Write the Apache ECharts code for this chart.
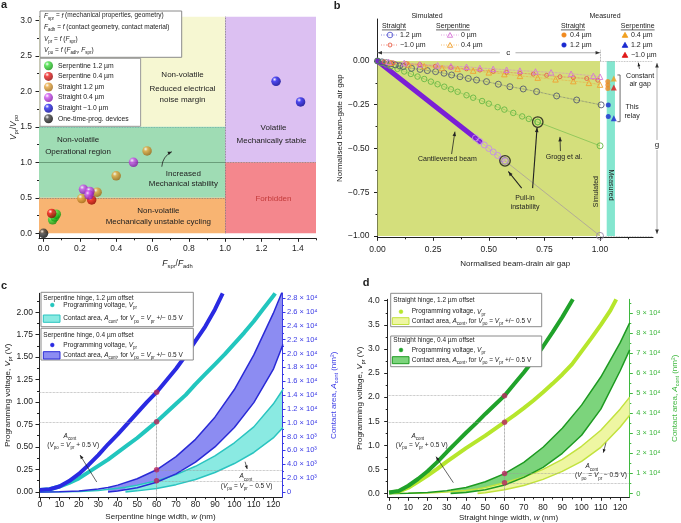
<!DOCTYPE html>
<html><head><meta charset="utf-8">
<script src="https://cdn.jsdelivr.net/npm/echarts@6/dist/echarts.min.js"></script>
<style>html,body{margin:0;padding:0;background:#fff}#c{width:681px;height:523px}</style>
</head><body><div id="c"></div>
<script>
// ================= DATA =================
// ---- Panel a : Vpr/Vpo vs Fspr/Fadh ----
const aSerp12 = [[0.05,0.19],[0.062,0.23],[0.07,0.27]];
const aSerp04 = [[0.045,0.28],[0.265,0.47]];
const aStr12  = [[0.21,0.49],[0.295,0.58],[0.40,0.81],[0.57,1.16]];
const aStr04  = [[0.22,0.62],[0.255,0.59],[0.25,0.54],[0.495,1.0]];
const aStrM10 = [[1.28,2.14],[1.415,1.85]];
const aOTP    = [[0,0]];
const aXTicks = [0,0.2,0.4,0.6,0.8,1.0,1.2,1.4];
const aXMinor = [0.1,0.3,0.5,0.7,0.9,1.1,1.3,1.5];
const aYTicks = [0,0.5,1,1.5,2,2.5,3];
const aYMinor = [0.25,0.75,1.25,1.75,2.25,2.75];

// ---- Panel b : normalised air gaps ----
const bCant     = [[0,0],[0.1,-0.1],[0.2,-0.2],[0.3,-0.3],[0.4,-0.4],[0.46,-0.46]];
const bCantEnd  = [[0.44,-0.44],[0.46,-0.46],[0.48,-0.48],[0.5,-0.5],[0.52,-0.52],[0.54,-0.54],[0.56,-0.56],[0.573,-0.571]];
const bCantPost = [[0.573,-0.571],[1.0,-1.0]];
const bGrogg = [[0,0],[0.02,-0.01],[0.04,-0.02],[0.06,-0.03],[0.09,-0.045],[0.12,-0.06],[0.15,-0.074],[0.18,-0.089],[0.21,-0.103],[0.24,-0.118],[0.27,-0.133],[0.3,-0.147],[0.33,-0.162],[0.36,-0.176],[0.4,-0.196],[0.43,-0.21],[0.47,-0.229],[0.5,-0.244],[0.54,-0.264],[0.57,-0.278],[0.61,-0.297],[0.65,-0.317],[0.68,-0.331],[0.72,-0.349]];
const bGroggPost = [[0.72,-0.349],[1.0,-0.485]];
const bSimStr12 = [[0,0],[0.02,-0.005],[0.04,-0.01],[0.06,-0.016],[0.08,-0.022],[0.1,-0.027],[0.116,-0.032],[0.153,-0.042],[0.191,-0.048],[0.224,-0.055],[0.261,-0.061],[0.299,-0.07],[0.333,-0.08],[0.371,-0.09],[0.408,-0.1],[0.445,-0.109],[0.49,-0.118],[0.543,-0.133],[0.595,-0.147],[0.655,-0.16],[0.715,-0.175],[0.805,-0.2],[0.895,-0.223],[1.005,-0.251]];
const bSimStrM10 = [[0.03,-0.005],[0.07,-0.01],[0.13,-0.015],[0.19,-0.02],[0.26,-0.03],[0.33,-0.037],[0.4,-0.045],[0.46,-0.052],[0.52,-0.06],[0.58,-0.065],[0.64,-0.07],[0.7,-0.075],[0.76,-0.082],[0.82,-0.09],[0.88,-0.095],[0.94,-0.1],[0.99,-0.11]];
const bSimSerp0 = [[0.05,-0.005],[0.12,-0.012],[0.19,-0.02],[0.27,-0.025],[0.33,-0.03],[0.4,-0.033],[0.46,-0.04],[0.52,-0.045],[0.58,-0.05],[0.64,-0.055],[0.71,-0.06],[0.78,-0.065],[0.87,-0.073],[0.97,-0.085],[1.0,-0.09]];
const bSimSerp04 = [[0.06,-0.01],[0.14,-0.02],[0.21,-0.03],[0.29,-0.04],[0.36,-0.045],[0.43,-0.055],[0.5,-0.065],[0.57,-0.075],[0.64,-0.085],[0.72,-0.095],[0.8,-0.105],[0.88,-0.115],[0.95,-0.125],[1.0,-0.135]];
const bPullIn = [[0.573,-0.571],[0.72,-0.349]];
const bMeasStr04 = [[1.035,-0.118],[1.035,-0.137],[1.035,-0.158]];
const bMeasStr12 = [[1.037,-0.251],[1.037,-0.318]];
const bMeasSerp04 = [[1.062,-0.1]];
const bMeasSerpM10 = [[1.062,-0.152]];
const bMeasSerp12 = [[1.062,-0.328]];
const bXTicks = [0,0.25,0.5,0.75,1];
const bXMinor = [0.125,0.375,0.625,0.875,1.125];
const bYTicks = [-1,-0.75,-0.5,-0.25,0];
const bYMinor = [-0.875,-0.625,-0.375,-0.125];

// ---- Panel c : serpentine hinge ----
const cW      = [0,5,10,15,20,25,30,35,40,45,50,55,60,65,70,75,80,85,90,94];
const cBlueV  = [0.02,0.03,0.06,0.12,0.2,0.3,0.41,0.53,0.64,0.76,0.88,1.0,1.11,1.24,1.37,1.52,1.68,1.84,2.03,2.21];
const cCyanW  = [0,5,10,15,20,25,30,35,40,45,50,55,60,65,70,75,80,85,90,95,100,105,110,115,120,121];
const cCyanV  = [0.02,0.03,0.06,0.1,0.15,0.22,0.29,0.36,0.44,0.52,0.6,0.69,0.78,0.88,0.98,1.08,1.2,1.31,1.42,1.53,1.65,1.77,1.9,2.04,2.18,2.21];
const cBlueUpW = [0,10,20,30,35,40,50,60,70,80,90,100,110,120,125];
const cBlueUp  = [0,30,130,420,650,980,1900,3200,5100,7600,10800,14800,19800,25800,29200];
const cBlueLoW = [35,40,50,60,70,80,90,100,110,120,125];
const cBlueLo  = [0,120,600,1400,2600,4300,6500,9300,12900,17700,21300];
const cCyanUpW = [0,10,20,30,40,44,50,60,70,80,90,100,110,120,125];
const cCyanUp  = [0,15,70,220,520,680,980,1600,2500,3700,5200,7100,9400,12700,14800];
const cCyanLoW = [44,50,60,70,80,90,100,110,120,125];
const cCyanLo  = [0,150,500,1050,1800,2800,4100,5700,7800,9300];
const cMarkV = [[60,1.11],[60,0.78]];
const cMarkA = [[60,3200],[60,1600]];
const cXTicks = [0,10,20,30,40,50,60,70,80,90,100,110,120];
const cXMinor = [5,15,25,35,45,55,65,75,85,95,105,115];
const cYTicks = [0,0.25,0.5,0.75,1,1.25,1.5,1.75,2];
const cYMinor = [0.125,0.375,0.625,0.875,1.125,1.375,1.625,1.875,2.125];
const cRTicks = [0,2000,4000,6000,8000,10000,12000,14000,16000,18000,20000,22000,24000,26000,28000];
const cRMinor = [1000,3000,5000,7000,9000,11000,13000,15000,17000,19000,21000,23000,25000,27000];

// ---- Panel d : straight hinge ----
const dGreenW = [0,5,10,15,20,25,30,35,40,45,50,55,60,65,70,75,80,85,90,95.5];
const dGreenV = [0.02,0.05,0.16,0.3,0.46,0.65,0.86,1.06,1.26,1.45,1.65,1.84,2.03,2.27,2.51,2.77,3.05,3.35,3.66,4.03];
const dYelW   = [0,5,10,15,20,25,30,35,40,45,50,55,60,65,70,75,80,85,90,95,100,105,110,115,118];
const dYelV   = [0.02,0.04,0.12,0.24,0.37,0.51,0.66,0.8,0.94,1.07,1.2,1.34,1.48,1.62,1.77,1.93,2.1,2.28,2.47,2.68,2.95,3.22,3.5,3.8,4.03];
const dGreenUpW = [0,10,20,30,32,40,50,60,70,80,90,100,110,120,125];
const dGreenUp  = [0,100,500,1400,1700,3000,5800,9900,15500,23000,32500,44000,58000,75000,85000];
const dGreenLoW = [32,40,50,60,70,80,90,100,110,120,125];
const dGreenLo  = [0,500,1800,4200,8000,13000,20000,29000,42000,61000,71500];
const dYelUpW = [0,10,20,30,40,46,50,60,70,80,90,100,110,120,125];
const dYelUp  = [0,50,250,700,1500,2200,3000,5300,8200,12000,17000,23500,31500,42000,48000];
const dYelLoW = [46,50,60,70,80,90,100,110,120,125];
const dYelLo  = [0,400,1800,4000,7000,11000,16000,23000,33000,39000];
const dMarkV = [[60,2.03],[60,1.48]];
const dMarkA = [[60,9900],[60,5300]];
const dXTicks = [0,10,20,30,40,50,60,70,80,90,100,110,120];
const dXMinor = [5,15,25,35,45,55,65,75,85,95,105,115];
const dYTicks = [0,0.5,1,1.5,2,2.5,3,3.5,4];
const dYMinor = [0.25,0.75,1.25,1.75,2.25,2.75,3.25,3.75];
const dRTicks = [0,10000,20000,30000,40000,50000,60000,70000,80000,90000];
const dRMinor = [5000,15000,25000,35000,45000,55000,65000,75000,85000,95000];

// ================= HELPERS =================
const FONT = '"Liberation Sans", Arial, Helvetica, sans-serif';
const INK = '#222';
const zip = (a,b)=>a.map((v,i)=>[v,b[i]]);
const SUP = {'0':'⁰','1':'¹','2':'²','3':'³','4':'⁴','5':'⁵','6':'⁶','7':'⁷','8':'⁸','9':'⁹','-':'⁻'};
function sci(v,dec){ if(v===0) return '0'; const e=Math.floor(Math.log10(v)+1e-9); const m=v/Math.pow(10,e); return m.toFixed(dec)+' × 10'+String(e).split('').map(c=>SUP[c]).join(''); }
const minus = s => s.replace('-', '−');
function RICH(fs,color){ return {
  i:{fontStyle:'italic',fontSize:fs,color,fontFamily:FONT,lineHeight:fs+3},
  s:{fontSize:fs*0.68,color,fontFamily:FONT,verticalAlign:'bottom',lineHeight:fs*0.6},
  n:{fontSize:fs,color,fontFamily:FONT,lineHeight:fs+3}}; }

function mainAxis(o){
  const col = o.color||INK;
  return {type:'value', gridIndex:o.grid, min:o.min, max:o.max, position:o.pos,
    axisLine:{show:true,onZero:false,lineStyle:{color:col,width:1}},
    axisTick:{show:true,inside:false,length:3.5,customValues:o.ticks,lineStyle:{color:col,width:1}},
    axisLabel:{show:true,customValues:o.ticks,formatter:o.fmt,fontSize:o.fs||8.5,color:col,fontFamily:FONT,margin:o.margin||5},
    splitLine:{show:false}, minorTick:{show:false},
    name:o.name||'', nameLocation:'middle', nameGap:o.gap||20, nameRotate:o.rot, nameMoveOverlap:false,
    nameTextStyle:{fontFamily:FONT,fontSize:o.nfs||8.5,color:col,lineHeight:(o.nfs||8.5)+3,rich:RICH(o.nfs||8.5,col)}};
}
function minorAxis(o){
  const col = o.color||INK;
  return {type:'value', gridIndex:o.grid, min:o.min, max:o.max, position:o.pos,
    axisLine:{show:false,onZero:false}, axisLabel:{show:false}, splitLine:{show:false},
    axisTick:{show:true,inside:false,length:2,customValues:o.ticks,lineStyle:{color:col,width:1}}};
}

// axis ranges
const aX=[-0.025,1.5], aY=[-0.07,3.05];
const bX=[0,1.238], bY=[-1.008,0.24];
const cX=[-0.5,124.5], cY=[-0.06,2.21], cR=[-0.06*12990,2.21*12990];
const dX=[-0.7,124.8], dY=[-0.08,4.03], dR=[-0.08*24000,4.03*24000];

const xAxes = [
  mainAxis({grid:0,min:aX[0],max:aX[1],pos:'bottom',ticks:aXTicks,fmt:v=>v.toFixed(1),margin:5.5,name:'{i|F}{s|spr}/{i|F}{s|adh}',gap:20}),
  mainAxis({grid:1,min:bX[0],max:bX[1],pos:'bottom',ticks:bXTicks,fmt:v=>v.toFixed(2),margin:8,name:'Normalised beam-drain air gap',gap:21,nfs:8}),
  mainAxis({grid:2,min:cX[0],max:cX[1],pos:'bottom',ticks:cXTicks,fmt:v=>String(v),margin:3,name:'Serpentine hinge width, {i|w} (nm)',gap:14,nfs:8}),
  mainAxis({grid:3,min:dX[0],max:dX[1],pos:'bottom',ticks:dXTicks,fmt:v=>String(v),margin:6,name:'Straight hinge width, {i|w} (nm)',gap:15,nfs:8}),
  minorAxis({grid:0,min:aX[0],max:aX[1],pos:'bottom',ticks:aXMinor}),
  minorAxis({grid:1,min:bX[0],max:bX[1],pos:'bottom',ticks:bXMinor}),
  minorAxis({grid:2,min:cX[0],max:cX[1],pos:'bottom',ticks:cXMinor}),
  minorAxis({grid:3,min:dX[0],max:dX[1],pos:'bottom',ticks:dXMinor})
];
const BLUE='#3b3be6', GREEN='#3fb83f';
const yAxes = [
  mainAxis({grid:0,min:aY[0],max:aY[1],pos:'left',ticks:aYTicks,fmt:v=>v.toFixed(1),margin:7,name:'{i|V}{s|pr}/{i|V}{s|po}',gap:20,rot:90}),
  mainAxis({grid:1,min:bY[0],max:bY[1],pos:'left',ticks:bYTicks,fmt:v=>minus(v.toFixed(2)),margin:8,name:'Normalised beam-gate air gap',gap:32,rot:90,nfs:8}),
  mainAxis({grid:2,min:cY[0],max:cY[1],pos:'left',ticks:cYTicks,fmt:v=>v.toFixed(2),margin:6,name:'Programming voltage, {i|V}{s|pr} (V)',gap:26,rot:90,nfs:8}),
  mainAxis({grid:2,min:cR[0],max:cR[1],pos:'right',ticks:cRTicks,fmt:v=>sci(v,1),margin:5,fs:7.5,color:BLUE,name:'Contact area, {i|A}{s|cont} (nm²)',gap:46,rot:90,nfs:8}),
  mainAxis({grid:3,min:dY[0],max:dY[1],pos:'left',ticks:dYTicks,fmt:v=>v.toFixed(1),margin:8,name:'Programming voltage, {i|V}{s|pr} (V)',gap:22,rot:90,nfs:8}),
  mainAxis({grid:3,min:dR[0],max:dR[1],pos:'right',ticks:dRTicks,fmt:v=>sci(v,0),margin:7,fs:7.5,color:GREEN,name:'Contact area, {i|A}{s|cont} (nm²)',gap:40,rot:90,nfs:8}),
  minorAxis({grid:0,min:aY[0],max:aY[1],pos:'left',ticks:aYMinor}),
  minorAxis({grid:1,min:bY[0],max:bY[1],pos:'left',ticks:bYMinor}),
  minorAxis({grid:2,min:cY[0],max:cY[1],pos:'left',ticks:cYMinor}),
  minorAxis({grid:2,min:cR[0],max:cR[1],pos:'right',ticks:cRMinor,color:BLUE}),
  minorAxis({grid:3,min:dY[0],max:dY[1],pos:'left',ticks:dYMinor}),
  minorAxis({grid:3,min:dR[0],max:dR[1],pos:'right',ticks:dRMinor,color:GREEN})
];

function sphere(name,data,c1,c2){ return {name,type:'scatter',xAxisIndex:0,yAxisIndex:0,data,symbol:'circle',symbolSize:9.5,z:10,silent:true,
  itemStyle:{color:{type:'radial',x:0.35,y:0.3,r:0.75,colorStops:[{offset:0,color:'#ffffff'},{offset:0.3,color:c1},{offset:1,color:c2}]}}}; }
function openLine(data,color,sym,size,lt,lw){ return {type:'line',xAxisIndex:1,yAxisIndex:1,data,symbol:sym,symbolSize:size,showSymbol:true,showAllSymbol:true,silent:true,z:5,
  lineStyle:{color,width:lw||0.7,type:lt||'dotted'},itemStyle:{color:'rgba(255,255,255,0)',borderColor:color,borderWidth:0.9}}; }
function filled(data,color,sym,size){ return {type:'scatter',xAxisIndex:1,yAxisIndex:1,data,symbol:sym,symbolSize:size,silent:true,z:8,itemStyle:{color}}; }
function curve(xi,yi,data,color,width,z){ return {type:'line',xAxisIndex:xi,yAxisIndex:yi,data,symbol:'none',silent:true,clip:true,z:z||3,lineStyle:{color,width}}; }
function band(xi,yi,up,lo,fill){ return {type:'custom',xAxisIndex:xi,yAxisIndex:yi,data:[[0,0]],clip:true,silent:true,z:1,
  renderItem:(p,api)=>{ const s=lo[0][0]; const pts=up.filter(q=>q[0]>=s).map(q=>api.coord(q)); for(let i=lo.length-1;i>=0;i--) pts.push(api.coord(lo[i])); return {type:'polygon',shape:{points:pts},style:{fill}}; }}; }
function markers(xi,yi,data,lines){ return {type:'scatter',xAxisIndex:xi,yAxisIndex:yi,data,symbol:'circle',symbolSize:5.5,silent:true,z:12,itemStyle:{color:'#b8285e'},
  markLine:{silent:true,symbol:['none','none'],label:{show:false},lineStyle:{color:'#999',width:0.7,type:'dotted'},data:lines}}; }
const seg=(p,q,style)=>[Object.assign({coord:p},style?{lineStyle:style}:{}),{coord:q}];

const series = [
  // ---- a: regions ----
  {type:'line',xAxisIndex:0,yAxisIndex:0,data:[[0,0]],symbol:'none',lineStyle:{opacity:0},silent:true,z:0,
   markArea:{silent:true,label:{show:false},data:[
     [{coord:[aX[0],1.5],itemStyle:{color:'#f6f7d2'}},{coord:[1,aY[1]]}],
     [{coord:[aX[0],0.5],itemStyle:{color:'#9fdcb4'}},{coord:[1,1.5]}],
     [{coord:[aX[0],0],itemStyle:{color:'#f8b472'}},{coord:[1,0.5]}],
     [{coord:[1,1],itemStyle:{color:'#dcc0f2'}},{coord:[aX[1],aY[1]]}],
     [{coord:[1,0],itemStyle:{color:'#f4878d'}},{coord:[aX[1],1]}]
   ]},
   markLine:{silent:true,symbol:['none','none'],label:{show:false},data:[
     seg([1,0],[1,aY[1]],{color:'#666',width:0.8,type:'dotted'}),
     seg([aX[0],1.5],[1,1.5],{color:'#6aa',width:0.8,type:'dotted'}),
     seg([aX[0],0.5],[1,0.5],{color:'#777',width:0.8,type:'dotted'}),
     seg([aX[0],1],[1,1],{color:'#5d8f6c',width:0.8,type:'solid'}),
     seg([1,1],[aX[1],1],{color:'#777',width:0.8,type:'dotted'})
   ]}},
  sphere('Serpentine 1.2 µm',aSerp12,'#3ee03e','#0b8a0b'),
  sphere('Serpentine 0.4 µm',aSerp04,'#f02020','#8a0000'),
  sphere('Straight 1.2 µm',aStr12,'#e8a840','#9a6210'),
  sphere('Straight 0.4 µm',aStr04,'#d055f0','#7a10a0'),
  sphere('Straight −1.0 µm',aStrM10,'#2a2af0','#00008a'),
  sphere('One-time-prog. devices',aOTP,'#444','#000'),

  // ---- b ----
  {type:'line',xAxisIndex:1,yAxisIndex:1,data:[[0,0]],symbol:'none',lineStyle:{opacity:0},silent:true,z:0,
   markArea:{silent:true,label:{show:false},data:[
     [{coord:[0,-1],itemStyle:{color:'#d4df7c'}},{coord:[1,0]}],
     [{coord:[1.03,-1],itemStyle:{color:'#84e6cf'}},{coord:[1.067,0]}]
   ]},
   markLine:{silent:true,symbol:['none','none'],label:{show:false},data:[
     seg([1,0],[bX[1],0],{color:'#aaa',width:0.8,type:'dotted'}),
     seg([1,-1],[bX[1],-1],{color:'#aaa',width:0.8,type:'dotted'}),
     seg([1,0],[1,0.065],{color:'#888',width:0.8,type:'dotted'})
   ]}},
  {type:'line',xAxisIndex:1,yAxisIndex:1,data:bCant,symbol:'none',silent:true,z:4,lineStyle:{color:'#7b1fd6',width:5,cap:'round'}},
  openLine(bCantEnd,'#c48ee6','circle',6,'solid',0.6),
  openLine(bCantPost,'#9c8aa8','circle',7,'solid',0.6),
  openLine(bGrogg,'#66b845','circle',5.5,'dotted',0.7),
  openLine(bGroggPost,'#66b845','circle',6,'solid',0.6),
  openLine(bSimStr12,'#545a72','circle',6,'dotted',0.7),
  openLine(bSimSerp04,'#f0a232','triangle',5.5,'dotted',0.7),
  openLine(bSimStrM10,'#e8604a','circle',4,'dotted',0.7),
  openLine(bSimSerp0,'#d676d6','triangle',5.5,'dotted',0.7),
  {type:'scatter',xAxisIndex:1,yAxisIndex:1,data:bPullIn,symbol:'circle',symbolSize:10.5,silent:true,z:9,itemStyle:{color:'rgba(0,0,0,0)',borderColor:'#111',borderWidth:1.3}},
  filled(bMeasStr04,'#f08a20','circle',5),
  filled(bMeasStr12,'#1a2ad0','circle',5),
  filled(bMeasSerp04,'#f0a020','triangle',6),
  filled(bMeasSerpM10,'#e01818','triangle',6),
  filled(bMeasSerp12,'#1a2ad0','triangle',6),

  // ---- c ----
  band(2,3,zip(cBlueUpW,cBlueUp),zip(cBlueLoW,cBlueLo),'#8c8cf2'),
  band(2,3,zip(cCyanUpW,cCyanUp),zip(cCyanLoW,cCyanLo),'#8aeae2'),
  curve(2,3,zip(cCyanUpW,cCyanUp),'#2ac4c0',1.5,2),
  curve(2,3,zip(cCyanLoW,cCyanLo),'#2ac4c0',1.5,2),
  curve(2,3,zip(cBlueUpW,cBlueUp),'#2a2ad6',1.5,2),
  curve(2,3,zip(cBlueLoW,cBlueLo),'#2a2ad6',1.5,2),
  curve(2,2,zip(cCyanW,cCyanV),'#22c6be',4,3),
  curve(2,2,zip(cW,cBlueV),'#2a2ae2',4,3),
  markers(2,2,cMarkV,cMarkV.flatMap(p=>[seg([cX[0],p[1]],[60,p[1]]),seg([60,p[1]],[60,cY[0]])])),
  markers(2,3,cMarkA,cMarkA.map(p=>seg([60,p[1]],[cX[1],p[1]]))),

  // ---- d ----
  band(3,5,zip(dGreenUpW,dGreenUp),zip(dGreenLoW,dGreenLo),'#7cd47c'),
  band(3,5,zip(dYelUpW,dYelUp),zip(dYelLoW,dYelLo),'#eef6a2'),
  curve(3,5,zip(dYelUpW,dYelUp),'#c2e23e',1.5,2),
  curve(3,5,zip(dYelLoW,dYelLo),'#c2e23e',1.5,2),
  curve(3,5,zip(dGreenUpW,dGreenUp),'#1e9a22',1.5,2),
  curve(3,5,zip(dGreenLoW,dGreenLo),'#1e9a22',1.5,2),
  curve(3,4,zip(dYelW,dYelV),'#b6e62c',4,3),
  curve(3,4,zip(dGreenW,dGreenV),'#20a22a',4,3),
  markers(3,4,dMarkV,dMarkV.flatMap(p=>[seg([dX[0],p[1]],[60,p[1]]),seg([60,p[1]],[60,dY[0]])])),
  markers(3,5,dMarkA,dMarkA.map(p=>seg([60,p[1]],[dX[1],p[1]])))
];

const option = {
  animation:false, backgroundColor:'#fff', textStyle:{fontFamily:FONT},
  grid:[
    {left:39,top:16.7,width:277,height:221.6,containLabel:false,outerBoundsMode:'none'},
    {left:377.5,top:19,width:275.5,height:218.3,containLabel:false,outerBoundsMode:'none'},
    {left:39,top:293.3,width:243,height:204,containLabel:false,outerBoundsMode:'none'},
    {left:387.7,top:299.3,width:241.6,height:198,containLabel:false,outerBoundsMode:'none'}
  ],
  xAxis:xAxes, yAxis:yAxes,
  legend:{data:['Serpentine 1.2 µm','Serpentine 0.4 µm','Straight 1.2 µm','Straight 0.4 µm','Straight −1.0 µm','One-time-prog. devices'],
    orient:'vertical',left:40,top:58.3,itemWidth:9,itemHeight:9,itemGap:1.6,padding:[3,12,3,4],icon:'circle',
    backgroundColor:'#fff',borderColor:'#999',borderWidth:1,selectedMode:false,
    textStyle:{fontSize:6.8,color:INK,fontFamily:FONT}},
  series
};
const chart = echarts.init(document.getElementById('c'),null,{renderer:'canvas',width:681,height:523});
chart.setOption(option);

// ================= ANNOTATIONS =================
const G=[];
const px=(xa,ya,x,y)=>chart.convertToPixel({xAxisIndex:xa,yAxisIndex:ya},[x,y]);
const pa=(x,y)=>px(0,0,x,y), pb=(x,y)=>px(1,1,x,y), pc=(x,y)=>px(2,2,x,y), pd=(x,y)=>px(3,4,x,y);
const mctx=document.createElement('canvas').getContext('2d');
const tw=(t,fs)=>{mctx.font=fs+'px '+FONT; return mctx.measureText(t).width;};
function T(p,text,o={}){ G.push({type:'text',x:p[0],y:p[1],z:50,rotation:o.rot||0,silent:true,
  style:{text,fontFamily:FONT,fontSize:o.fs||7,fill:o.color||INK,align:o.align||'center',verticalAlign:o.va||'middle',fontWeight:o.fw||'normal',
  rich:o.rich?RICH(o.fs||7,o.color||INK):undefined,backgroundColor:o.bg,padding:o.pad}}); }
function head(a,b,c,L,W){ const dx=b[0]-a[0],dy=b[1]-a[1],d=Math.hypot(dx,dy),ux=dx/d,uy=dy/d;
  G.push({type:'polygon',z:51,silent:true,shape:{points:[[b[0],b[1]],[b[0]-ux*L-uy*W,b[1]-uy*L+ux*W],[b[0]-ux*L+uy*W,b[1]-uy*L-ux*W]]},style:{fill:c}}); }
function A(p0,p1,o={}){ const c=o.color||INK;
  G.push({type:'line',z:50,silent:true,shape:{x1:p0[0],y1:p0[1],x2:p1[0],y2:p1[1]},style:{stroke:c,lineWidth:o.w||0.8,lineDash:o.dash}});
  if(o.end!==false) head(p0,p1,o.hc||c,o.L||4.5,o.W||1.8);
  if(o.start) head(p1,p0,o.hc||c,o.L||4.5,o.W||1.8); }
function L(p0,p1,c,w,dash){ G.push({type:'line',z:50,silent:true,shape:{x1:p0[0],y1:p0[1],x2:p1[0],y2:p1[1]},style:{stroke:c,lineWidth:w||0.8,lineDash:dash}}); }
function box(x,y,w,h){ G.push({type:'rect',z:40,silent:true,shape:{x,y,width:w,height:h},style:{fill:'#fff',stroke:'#8a8a8a',lineWidth:1}}); }
function rect(x,y,w,h,f,s){ G.push({type:'rect',z:45,silent:true,shape:{x,y,width:w,height:h},style:{fill:f,stroke:s,lineWidth:1}}); }
function circ(x,y,r,f,s,lw){ G.push({type:'circle',z:45,silent:true,shape:{cx:x,cy:y,r},style:{fill:f,stroke:s,lineWidth:lw||0.9}}); }
function tri(x,y,r,f,s){ G.push({type:'polygon',z:45,silent:true,shape:{points:[[x,y-r],[x+r*0.95,y+r*0.7],[x-r*0.95,y+r*0.7]]},style:{fill:f,stroke:s,lineWidth:0.9}}); }
function U(p,text,fs){ T(p,text,{fs}); const w=tw(text,fs); L([p[0]-w/2,p[1]+4.2],[p[0]+w/2,p[1]+4.2],INK,0.7); }

// panel letters
T([4,4.5],'a',{fs:11,fw:'bold'}); T([337,5.5],'b',{fs:11,fw:'bold'});
T([4,286],'c',{fs:11,fw:'bold'}); T([366,283],'d',{fs:11,fw:'bold'});

// ---- a ----
box(40,11,141.7,46.3);
[['{i|F}{s|spr} = {i|f} (mechanical properties, geometry)',15.7],
 ['{i|F}{s|adh} = {i|f} (contact geometry, contact material)',27.5],
 ['{i|V}{s|pr} = {i|f} ({i|F}{s|spr})',39],
 ['{i|V}{s|po} = {i|f} ({i|F}{s|adh}, {i|F}{s|spr})',50.5]].forEach(r=>T([44,r[1]],r[0],{align:'left',fs:6.5,rich:true}));
T(pa(0.765,2.23),'Non-volatile',{fs:8}); T(pa(0.765,2.03),'Reduced electrical',{fs:8}); T(pa(0.765,1.88),'noise margin',{fs:8});
T(pa(0.19,1.32),'Non-volatile',{fs:8}); T(pa(0.19,1.15),'Operational region',{fs:8});
T(pa(0.77,0.845),'Increased',{fs:8}); T(pa(0.77,0.694),'Mechanical stability',{fs:8});
T(pa(0.632,0.314),'Non-volatile',{fs:8}); T(pa(0.632,0.164),'Mechanically unstable cycling',{fs:8});
T(pa(1.266,1.487),'Volatile',{fs:8}); T(pa(1.255,1.30),'Mechanically stable',{fs:8});
T(pa(1.266,0.483),'Forbidden',{fs:8,color:'#c23a3a'});
(function(){ const p0=pa(0.651,0.938), p1=pa(0.706,1.149), cp=pa(0.655,1.08);
  G.push({type:'bezierCurve',z:50,silent:true,shape:{x1:p0[0],y1:p0[1],x2:p1[0],y2:p1[1],cpx1:cp[0],cpy1:cp[1]},style:{stroke:INK,lineWidth:0.8,fill:null}});
  head(pa(0.685,1.125),p1,INK,4,1.7); })();

// ---- b ----
T([427,15.7],'Simulated'); U([394,25.7],'Straight',7); U([453,25.7],'Serpentine',7);
L([381,35],[398,35],'#5a5ad0',0.7,[1,1.5]); circ(390,35,2.8,'none','#5a5ad0'); T([400,35],'1.2 µm',{align:'left'});
L([381,45],[398,45],'#e8604a',0.7,[1,1.5]); circ(390,45,2,'none','#e8604a'); T([400,45],'−1.0 µm',{align:'left'});
L([441,35],[459,35],'#d676d6',0.7,[1,1.5]); tri(450,35.3,2.8,'none','#d676d6'); T([461,35],'0 µm',{align:'left'});
L([441,45],[459,45],'#f0a232',0.7,[1,1.5]); tri(450,45.3,2.8,'none','#f0a232'); T([461,45],'0.4 µm',{align:'left'});
T([605,15.7],'Measured'); U([573,25.7],'Straight',7); U([637.7,25.7],'Serpentine',7);
circ(564,35,2.3,'#f08a20','#f08a20',0.5); T([570,35],'0.4 µm',{align:'left'});
circ(564,45,2.3,'#1a2ad0','#1a2ad0',0.5); T([570,45],'1.2 µm',{align:'left'});
tri(625,35.3,2.9,'#f0a020','#f0a020'); T([631,35],'0.4 µm',{align:'left'});
tri(625,45.3,2.9,'#1a2ad0','#1a2ad0'); T([631,45],'1.2 µm',{align:'left'});
tri(625,55.3,2.9,'#e01818','#e01818'); T([631,55],'−1.0 µm',{align:'left'});
// c arrow
A(pb(0.55,0.047),pb(0,0.047),{color:'#999',hc:'#333'}); A(pb(0.62,0.047),pb(1.0,0.047),{color:'#999',hc:'#333'});
T(pb(0.587,0.047),'c',{fs:8});
// g arrow
(function(){ const t=pb(1.256,0), b=pb(1.256,-1.0); A([t[0],b[1]-2],[t[0],t[1]+2],{color:'#999',hc:'#333',start:true}); T([t[0],pb(0,-0.48)[1]],'g',{fs:8,bg:'#fff',pad:[1,1]}); })();
// bracket
(function(){ const t=pb(1.09,-0.08), b=pb(1.09,-0.347), tl=pb(1.078,-0.08), bl=pb(1.078,-0.347);
  L(t,b,'#444',0.8); L(t,tl,'#444',0.8); L(b,bl,'#444',0.8); })();
T(pb(1.144,-0.261),'This',{fs:7}); T(pb(1.144,-0.313),'relay',{fs:7});
T(pb(1.18,-0.086),'Constant',{fs:7}); T(pb(1.18,-0.133),'air gap',{fs:7});
A(pb(1.177,-0.045),pb(1.172,-0.01),{L:3.5,W:1.4});
T(pb(0.314,-0.562),'Cantilevered beam',{fs:7}); A(pb(0.333,-0.532),pb(0.348,-0.404));
T(pb(0.838,-0.547),'Grogg et al.',{fs:7}); A(pb(0.822,-0.515),pb(0.82,-0.434));
T(pb(0.663,-0.783),'Pull-in',{fs:7}); T(pb(0.663,-0.834),'instability',{fs:7});
A(pb(0.648,-0.727),pb(0.588,-0.632),{w:1.1}); A(pb(0.697,-0.727),pb(0.717,-0.381),{w:1.1});
T(pb(0.982,-0.747),'Simulated',{fs:7,rot:Math.PI/2}); T(pb(1.048,-0.709),'Measured',{fs:7,rot:-Math.PI/2});

// ---- c ----
box(41,292.3,152.3,34.4);
T([43.3,298.3],'Serpentine hinge, 1.2 µm offset',{align:'left',fs:6.5});
circ(52.3,305,1.9,'#22c6be','#22c6be',0.5); T([63.3,305],'Programming voltage, {i|V}{s|pr}',{align:'left',fs:6.5,rich:true});
rect(43.3,315,16.7,7.3,'#8aeae2','#2ac4c0'); T([63.3,318.6],'Contact area, {i|A}{s|cont}, for {i|V}{s|po} = {i|V}{s|pr} +/− 0.5 V',{align:'left',fs:6.5,rich:true});
box(41,328.3,152.3,31.7);
T([43.3,335],'Serpentine hinge, 0.4 µm offset',{align:'left',fs:6.5});
circ(52.3,345,1.9,'#2a2ae2','#2a2ae2',0.5); T([63.3,345],'Programming voltage, {i|V}{s|pr}',{align:'left',fs:6.5,rich:true});
rect(43.3,351.7,16.7,7.3,'#8c8cf2','#2a2ad6'); T([63.3,355.3],'Contact area, {i|A}{s|cont}, for {i|V}{s|po} = {i|V}{s|pr} +/− 0.5 V',{align:'left',fs:6.5,rich:true});
T(pc(15.4,0.625),'{i|A}{s|cont}',{fs:6.5,rich:true}); T(pc(17.1,0.52),'({i|V}{s|po} = {i|V}{s|pr} + 0.5 V)',{fs:6.5,rich:true});
A(pc(29.2,0.11),pc(20.6,0.41),{w:0.7,L:4,W:1.6});
T(pc(105.9,0.17),'{i|A}{s|cont}',{fs:6.5,rich:true}); T(pc(106.3,0.066),'({i|V}{s|po} = {i|V}{s|pr} − 0.5 V)',{fs:6.5,rich:true});
A(pc(105.5,0.336),pc(106.6,0.255),{w:0.7,L:3.5,W:1.5});

// ---- d ----
box(390.7,293.3,151,33.4);
T([393.3,300.7],'Straight hinge, 1.2 µm offset',{align:'left',fs:6.5});
circ(401,311.7,1.9,'#b6e62c','#b6e62c',0.5); T([411.7,311.7],'Programming voltage, {i|V}{s|pr}',{align:'left',fs:6.5,rich:true});
rect(392.3,317.7,16.7,6.8,'#eef6a2','#c2e23e'); T([411.7,321],'Contact area, {i|A}{s|cont}, for {i|V}{s|po} = {i|V}{s|pr} +/− 0.5 V',{align:'left',fs:6.5,rich:true});
box(390.7,336,151,30.7);
T([393.3,340.5],'Straight hinge, 0.4 µm offset',{align:'left',fs:6.5});
circ(401,350,1.9,'#20a22a','#20a22a',0.5); T([411.7,350],'Programming voltage, {i|V}{s|pr}',{align:'left',fs:6.5,rich:true});
rect(392.3,356.7,16.7,7,'#7cd47c','#1e9a22'); T([411.7,360],'Contact area, {i|A}{s|cont}, for {i|V}{s|po} = {i|V}{s|pr} +/− 0.5 V',{align:'left',fs:6.5,rich:true});
T(pd(14.9,1.19),'{i|A}{s|cont}',{fs:6.5,rich:true}); T(pd(17.0,1.0),'({i|V}{s|po} = {i|V}{s|pr} + 0.5 V)',{fs:6.5,rich:true});
A(pd(33.4,0.224),pd(24.4,0.764),{w:0.7,L:4,W:1.6});
T(pd(105.3,0.556),'{i|A}{s|cont}',{fs:6.5,rich:true}); T(pd(110.1,0.37),'({i|V}{s|po} = {i|V}{s|pr} − 0.5 V)',{fs:6.5,rich:true});
A(pd(112.7,1.055),pd(111.3,0.847),{w:0.7,L:3.5,W:1.5});

chart.setOption({graphic:G});
</script></body></html>
